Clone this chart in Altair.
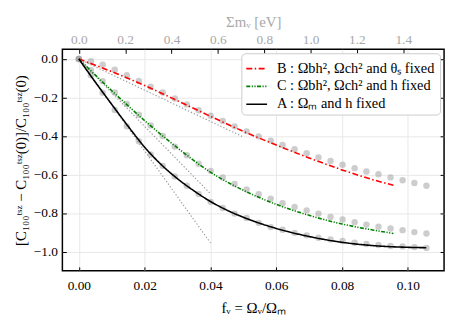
import altair as alt
import pandas as pd

# ---------------- data ----------------
series_keys = ["B", "C", "A"]
legend_labels = [
    "B : Ωbh², Ωch² and θₛ fixed",
    "C : Ωbh², Ωch² and h fixed",
    "A : Ωₘ and h fixed",
]

# theory curves (f_nu, relative change)
f_B = [0, 0.01, 0.02, 0.03, 0.04, 0.05, 0.06, 0.07, 0.08, 0.09, 0.0956]
v_B = [0, -0.066, -0.138, -0.217, -0.298, -0.376, -0.447, -0.514, -0.576, -0.630, -0.656]
f_C = [0, 0.01, 0.02, 0.03, 0.04, 0.05, 0.06, 0.07, 0.08, 0.09, 0.0956]
v_C = [0, -0.165, -0.320, -0.462, -0.588, -0.682, -0.755, -0.812, -0.857, -0.890, -0.906]
f_A = [0, 0.005, 0.01, 0.015, 0.02, 0.025, 0.03, 0.035, 0.04, 0.045, 0.05,
       0.06, 0.07, 0.08, 0.09, 0.1, 0.1056]
v_A = [0, -0.120, -0.236, -0.350, -0.458, -0.548, -0.622, -0.685, -0.740, -0.785,
       -0.822, -0.880, -0.922, -0.952, -0.970, -0.978, -0.980]

# linear (first-order) approximations, gray dotted
lin_series = ["B", "B", "C", "C", "A", "A"]
lin_f = [0, 0.0496, 0, 0.040, 0, 0.040]
lin_v = [0, -0.402, 0, -0.700, 0, -0.955]

# gray points, plotted against sum of neutrino masses [eV]
mnu = [0.000, 0.052, 0.103, 0.155, 0.207, 0.259, 0.310, 0.362, 0.414, 0.466,
       0.517, 0.569, 0.621, 0.672, 0.724, 0.776, 0.828, 0.879, 0.931, 0.983,
       1.034, 1.086, 1.138, 1.190, 1.241, 1.293, 1.345, 1.397, 1.448, 1.500]
pts_B = [0, -0.012, -0.030, -0.056, -0.085, -0.114, -0.144, -0.174, -0.205, -0.236,
         -0.266, -0.295, -0.322, -0.350, -0.376, -0.402, -0.424, -0.447, -0.469, -0.490,
         -0.511, -0.530, -0.549, -0.567, -0.584, -0.599, -0.615, -0.630, -0.644, -0.658]
pts_C = [0, -0.058, -0.115, -0.174, -0.234, -0.290, -0.345, -0.400, -0.455, -0.500,
         -0.544, -0.581, -0.615, -0.649, -0.677, -0.702, -0.726, -0.749, -0.769, -0.786,
         -0.803, -0.820, -0.834, -0.848, -0.860, -0.871, -0.880, -0.889, -0.899, -0.906]
pts_A = [0, -0.085, -0.175, -0.265, -0.350, -0.427, -0.496, -0.555, -0.610, -0.658,
         -0.701, -0.742, -0.774, -0.803, -0.826, -0.851, -0.873, -0.887, -0.903, -0.916,
         -0.928, -0.937, -0.945, -0.954, -0.961, -0.966, -0.971, -0.974, -0.977, -0.981]

f_ticks = [0.0, 0.02, 0.04, 0.06, 0.08, 0.10]
v_ticks = [0.0, -0.2, -0.4, -0.6, -0.8, -1.0]
mnu_ticks = [0.0, 0.2, 0.4, 0.6, 0.8, 1.0, 1.2, 1.4]

# ---------------- styles ----------------
line_colors = ["#ff0000", "#008000", "#000000"]
line_dashes = [[6, 2.5, 1.5, 2.5], [4, 1.5, 1.2, 1.5, 1.2, 1.5], [1, 0]]
FONT = "Liberation Serif"
f_dom = [-0.005, 0.111]
v_dom = [-1.1, 0.05]
mnu_dom = [-0.071, 1.576]

# ---------------- tables ----------------
label_of = dict(zip(series_keys, legend_labels))
rows = []
for key, fs, vs in (("B", f_B, v_B), ("C", f_C, v_C), ("A", f_A, v_A)):
    for f, v in zip(fs, vs):
        rows.append({"series": key, "label": label_of[key], "f": f, "v": v})
lines_df = pd.DataFrame(rows)
lin_df = pd.DataFrame({"series": lin_series, "f": lin_f, "v": lin_v})
prow = []
for key, vs in (("B", pts_B), ("C", pts_C), ("A", pts_A)):
    for m, v in zip(mnu, vs):
        prow.append({"series": key, "mnu": m, "v": v})
pts_df = pd.DataFrame(prow)

xs = alt.Scale(domain=f_dom, nice=False, zero=False)
ys = alt.Scale(domain=v_dom, nice=False, zero=False)
ms = alt.Scale(domain=mnu_dom, nice=False, zero=False)

ytitle = "[C₁₀₀ᵗˢᶻ − C₁₀₀ᵗˢᶻ(0)]/C₁₀₀ᵗˢᶻ(0)"

# axes with labels + grid
ax_labels = alt.Chart(lines_df).mark_point(opacity=0).encode(
    x=alt.X("f:Q", scale=xs, axis=alt.Axis(
        orient="bottom", values=f_ticks, format=".2f", ticks=False, domain=False,
        grid=True, gridColor="#e8e8e8", labelPadding=8, title="fᵥ = Ωᵥ/Ωₘ",
        titlePadding=9, titleFontSize=15)),
    y=alt.Y("v:Q", scale=ys, axis=alt.Axis(
        orient="left", values=v_ticks, format=".1f", ticks=False, domain=False,
        grid=True, gridColor="#e8e8e8", labelPadding=5, title=ytitle,
        titlePadding=5, titleFontSize=15)),
)
# inward ticks: bottom + left
ax_ticks1 = alt.Chart(lines_df).mark_point(opacity=0).encode(
    x=alt.X("f:Q", scale=xs, axis=alt.Axis(
        orient="bottom", values=f_ticks, offset=-4, tickSize=4, labels=False,
        domain=False, grid=False, title=None)),
    y=alt.Y("v:Q", scale=ys, axis=alt.Axis(
        orient="left", values=v_ticks, offset=-4, tickSize=4, labels=False,
        domain=False, grid=False, title=None)),
)
# inward ticks: right
ax_ticks2 = alt.Chart(lines_df).mark_point(opacity=0).encode(
    x=alt.X("f:Q", scale=xs, axis=None),
    y=alt.Y("v:Q", scale=ys, axis=alt.Axis(
        orient="right", values=v_ticks, offset=-4, tickSize=4, labels=False,
        domain=False, grid=False, title=None)),
)

dotted = alt.Chart(lin_df).mark_line(color="#9a9a9a", strokeDash=[1.3, 2], strokeWidth=1.2).encode(
    x=alt.X("f:Q", scale=xs, axis=None),
    y=alt.Y("v:Q", scale=ys, axis=None),
    detail="series:N",
)

leg = alt.Legend(title=None, orient="none", legendX=181, legendY=4, padding=4,
                 fillColor="white", strokeColor="#cccccc", cornerRadius=4,
                 labelFont=FONT, labelFontSize=14.5, symbolType="stroke",
                 symbolSize=441, symbolStrokeWidth=1.6, rowPadding=-2,
                 labelOffset=9, labelLimit=400)
curves = alt.Chart(lines_df).mark_line(strokeWidth=1.6, interpolate="monotone").encode(
    x=alt.X("f:Q", scale=xs, axis=None),
    y=alt.Y("v:Q", scale=ys, axis=None),
    color=alt.Color("label:N", scale=alt.Scale(domain=legend_labels, range=line_colors),
                    sort=legend_labels, legend=leg),
    strokeDash=alt.StrokeDash("label:N", scale=alt.Scale(domain=legend_labels, range=line_dashes),
                              sort=legend_labels, legend=leg),
)

main_group = alt.layer(ax_labels, ax_ticks1, ax_ticks2, dotted, curves).resolve_axis(
    x="independent", y="independent")

points = alt.Chart(pts_df).mark_circle(size=42, color="#9c9c9c", opacity=0.5).encode(
    x=alt.X("mnu:Q", scale=ms, axis=alt.Axis(
        orient="top", values=mnu_ticks, format=".1f", ticks=False, domain=False,
        grid=False, labelPadding=3, labelColor="#a8a8a8", titleColor="#a8a8a8",
        title="Σmᵥ  [eV]", titlePadding=3, titleFontSize=15)),
    y=alt.Y("v:Q", scale=ys, axis=None),
)
top_ticks = alt.Chart(pts_df).mark_point(opacity=0).encode(
    x=alt.X("mnu:Q", scale=ms, axis=alt.Axis(
        orient="top", values=mnu_ticks, offset=-4, tickSize=4, labels=False,
        domain=False, grid=False, title=None)),
    y=alt.Y("v:Q", scale=ys, axis=None),
)
top_group = alt.layer(points, top_ticks).resolve_axis(x="independent")

chart = alt.layer(top_group, main_group).resolve_scale(x="independent").resolve_axis(
    x="independent", y="independent"
).properties(width=386, height=224).configure(
    font=FONT
).configure_view(
    stroke="black", strokeWidth=1.5
).configure_axis(
    labelFont=FONT, titleFont=FONT, labelFontSize=13.5, titleFontSize=15,
    titleFontWeight="normal", labelColor="black", titleColor="black",
    tickColor="black", tickWidth=1,
)

chart.save("out.html", embed_options={"renderer": "svg", "actions": False})
